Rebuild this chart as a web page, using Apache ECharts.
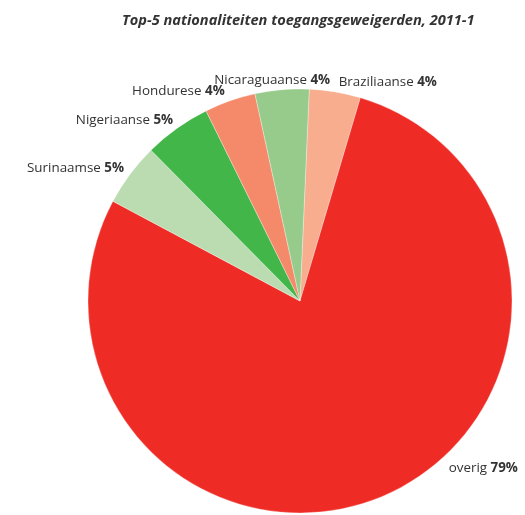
<!DOCTYPE html>
<html>
<head>
<meta charset="utf-8">
<script src="https://cdn.jsdelivr.net/npm/echarts@6/dist/echarts.min.js"></script>
<style>html,body{margin:0;padding:0;background:#fff}#c{width:525px;height:515px}</style>
</head>
<body>
<div id="c"></div>
<script>
var titleText = 'Top-5 nationaliteiten toegangsgeweigerden, 2011-1';
var categories = ['Braziliaanse', 'overig', 'Surinaamse', 'Nigeriaanse', 'Hondurese', 'Nicaraguaanse'];
var values = [3.9, 78.2, 4.8, 5.1, 3.9, 4.1];
var shownPercent = ['4%', '79%', '5%', '5%', '4%', '4%'];
var colors = ['#F8AD8E', '#EE2B25', '#BADCB0', '#43B64A', '#F58A6A', '#97CB8C'];

var chart = echarts.init(document.getElementById('c'), null, {renderer: 'canvas'});
var data = categories.map(function (c, i) {
  return {name: c, value: values[i], itemStyle: {color: colors[i]}};
});
chart.setOption({
  animation: false,
  title: {
    text: titleText,
    left: 117, top: 8,
    textStyle: {fontFamily: 'Open Sans', fontStyle: 'italic', fontWeight: 'bold', fontSize: 14.6, color: '#333'}
  },
  series: [{
    type: 'pie',
    center: [300, 301],
    radius: 212,
    startAngle: 87.5,
    clockwise: true,
    avoidLabelOverlap: false,
    data: data,
    itemStyle: {borderColor: 'rgba(255,255,255,0.6)', borderWidth: 0.5},
    label: {
      show: true,
      position: 'outside',
      distanceToLabelLine: 2,
      formatter: function (p) {
        return p.name + ' {b|' + shownPercent[p.dataIndex] + '}';
      },
      fontFamily: 'Open Sans',
      fontSize: 13.4,
      color: '#333',
      rich: {b: {fontFamily: 'Open Sans', fontSize: 13.4, fontWeight: 'bold', color: '#333'}}
    },
    labelLine: {show: false, length: 10, length2: 0},
    labelLayout: function (p) {
      if (p.dataIndex === 5) return {dx: 51};
      if (p.dataIndex === 1) return {dx: 61, dy: -38};
      if (p.dataIndex === 2 || p.dataIndex === 3) return {dx: 4};
      return {};
    }
  }]
});
</script>
</body>
</html>
